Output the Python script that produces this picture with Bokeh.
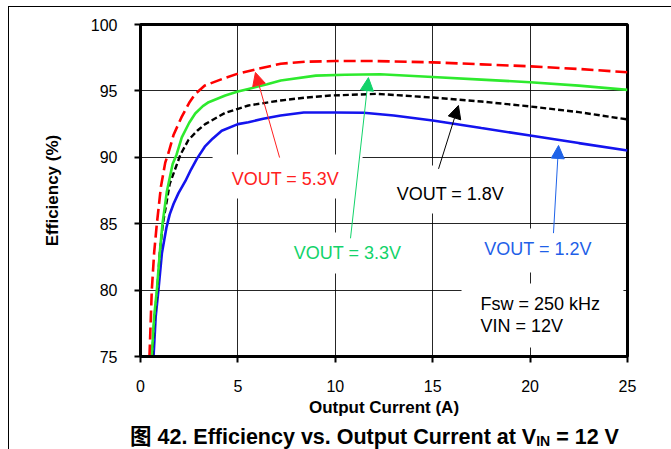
from bokeh.plotting import figure
from bokeh.models import Arrow, NormalHead, Label, FixedTicker, Range1d, Div
from bokeh.layouts import column
from bokeh.embed import file_html
from bokeh.resources import INLINE

# ---- data ----
x_ticks = [0, 5, 10, 15, 20, 25]
y_ticks = [75, 80, 85, 90, 95, 100]

x_53 = [0.46, 0.58, 0.7, 0.84, 1.05, 1.27, 1.45, 1.7, 2.1, 2.5, 2.8, 3.3, 4.2, 5.0, 6.0, 7.2, 8.5, 10, 12, 15, 17.5, 20, 22.5, 25]
y_53 = [75, 80, 82.8, 85, 87.8, 89.6, 90.4, 91.7, 93.0, 94.1, 94.75, 95.4, 95.9, 96.3, 96.65, 97.05, 97.2, 97.25, 97.25, 97.15, 97.0, 96.85, 96.65, 96.4]

x_33 = [0.58, 0.7, 0.84, 1.0, 1.13, 1.35, 1.65, 1.85, 2.12, 2.5, 2.81, 3.2, 3.5, 4.35, 5.0, 5.54, 6.5, 7.2, 9.0, 10.5, 12.3, 15, 17.5, 20, 22.5, 25]
y_33 = [75, 78, 80, 83, 85, 87.4, 89.5, 90.2, 91.5, 92.6, 93.3, 93.85, 94.15, 94.65, 94.95, 95.15, 95.5, 95.78, 96.15, 96.22, 96.25, 96.05, 95.85, 95.65, 95.4, 95.08]

x_18 = [0.6, 0.72, 0.86, 1.0, 1.15, 1.5, 1.9, 2.05, 2.46, 2.91, 3.32, 4.35, 5.0, 5.54, 7.19, 8.5, 9.75, 12.15, 15, 17.5, 20, 22.5, 25]
y_18 = [75, 78, 80, 83, 85, 88, 89.6, 90.2, 91.3, 92.0, 92.5, 93.35, 93.65, 93.9, 94.28, 94.5, 94.65, 94.78, 94.5, 94.2, 93.83, 93.4, 92.85]

x_12 = [0.67, 0.78, 0.92, 1.1, 1.33, 1.5, 1.7, 1.95, 2.3, 2.6, 2.9, 3.3, 3.7, 4.17, 5.0, 5.54, 6.3, 7.19, 8.38, 10, 11.46, 13, 15, 17.5, 20, 22.5, 25]
y_12 = [75, 78, 80, 82.8, 84.7, 85.7, 86.5, 87.3, 88.2, 89.1, 89.9, 90.8, 91.4, 92.0, 92.5, 92.64, 92.9, 93.15, 93.37, 93.37, 93.35, 93.15, 92.77, 92.2, 91.64, 91.07, 90.51]

FONT = "Liberation Sans"

p = figure(width=671, height=422,
           x_range=Range1d(0, 25), y_range=Range1d(75, 100),
           output_backend="svg", toolbar_location=None,
           min_border_left=140, min_border_right=44,
           min_border_top=24, min_border_bottom=66,
           background_fill_color="white", border_fill_color=None)

p.outline_line_color = "black"
p.outline_line_width = 3

for ax, ticks in ((p.xaxis, x_ticks), (p.yaxis, y_ticks)):
    ax.ticker = FixedTicker(ticks=ticks)
    ax.axis_line_width = 3
    ax.axis_line_color = "black"
    ax.major_tick_line_width = 2
    ax.major_tick_line_color = "black"
    ax.major_tick_out = 6
    ax.major_tick_in = 0
    ax.minor_tick_line_color = None
    ax.major_label_text_font = FONT
    ax.major_label_text_font_size = "16px"
    ax.major_label_text_color = "black"
    ax.axis_label_text_font = FONT
    ax.axis_label_text_font_style = "bold"
    ax.axis_label_text_color = "black"

p.xaxis.axis_label = "Output Current (A)"
p.xaxis.axis_label_text_font_size = "17px"
p.xaxis.major_label_standoff = 17
p.xaxis.axis_label_standoff = 3
p.yaxis.axis_label = "Efficiency (%)"
p.yaxis.axis_label_text_font_size = "17px"
p.yaxis.major_label_standoff = 17
p.yaxis.axis_label_standoff = 26

p.xgrid.ticker = FixedTicker(ticks=x_ticks)
p.ygrid.ticker = FixedTicker(ticks=y_ticks)
for g in (p.xgrid, p.ygrid):
    g.grid_line_color = "black"
    g.grid_line_width = 1
    g.grid_line_alpha = 0.85

# white boxes behind annotation texts (hide grid lines)
box_left = [3.70, 12.58, 7.44, 16.94, 16.48]
box_right = [11.40, 19.25, 13.86, 23.61, 24.79]
box_top = [90.21, 89.38, 84.34, 84.64, 80.50]
box_bottom = [86.90, 85.77, 81.25, 81.33, 75.68]
p.quad(left=box_left, right=box_right, top=box_top, bottom=box_bottom,
       fill_color="white", line_color=None)

# curves
p.line(x_12, y_12, line_color="#1414ee", line_width=2.6)
p.line(x_18, y_18, line_color="black", line_width=2.4, line_dash="6 3")
p.line(x_33, y_33, line_color="#2eea2e", line_width=2.6)
p.line(x_53, y_53, line_color="#ff0000", line_width=2.6, line_dash="12 5")

# arrows
arrows = [
    ((7.14, 89.98), (5.90, 96.39), "#ff2020"),
    ((10.78, 83.90), (11.70, 96.00), "#12d36a"),
    ((15.30, 89.13), (16.32, 93.90), "black"),
    ((21.20, 84.29), (21.46, 90.89), "#1f63e8"),
]
for (xs, ys), (xe, ye), c in arrows:
    p.add_layout(Arrow(x_start=xs, y_start=ys, x_end=xe, y_end=ye,
                       line_color=c, line_width=1,
                       end=NormalHead(size=13, fill_color=c, line_color=c)))

# labels
labels = [
    ("VOUT = 5.3V", 7.44, 88.40, "#ff2020", "center"),
    ("VOUT = 1.8V", 15.91, 87.27, "black", "center"),
    ("VOUT = 3.3V", 10.63, 82.76, "#12d36a", "center"),
    ("VOUT = 1.2V", 20.41, 83.06, "#1f5fe8", "center"),
    ("Fsw = 250 kHz", 17.45, 78.92, "black", "left"),
    ("VIN = 12V", 17.45, 77.26, "black", "left"),
]
for t, x, y, c, al in labels:
    p.add_layout(Label(x=x, y=y, text=t, text_color=c, text_font=FONT,
                       text_font_size="18px", text_align=al,
                       text_baseline="middle"))

caption = Div(
    width=671, height=27,
    text=('<div style="padding-left:125px;text-align:left;'
          'font-family:\'Liberation Sans\',\'Noto Sans CJK SC\',sans-serif;'
          'font-weight:bold;font-size:21.5px;line-height:21px;color:#000;white-space:nowrap">'
          '图 42. Efficiency vs. Output Current at V'
          '<span style="font-size:14px;position:relative;top:2px">IN</span>'
          ' = 12 V</div>'),
)

layout = column(p, caption, spacing=0,
                styles={"box-shadow": "inset 8px 6px 0 0 #fff, inset 9px 7px 0 0 #000",
                        "background": "#fff"})

open("out.html", "w").write(file_html(layout, INLINE))
